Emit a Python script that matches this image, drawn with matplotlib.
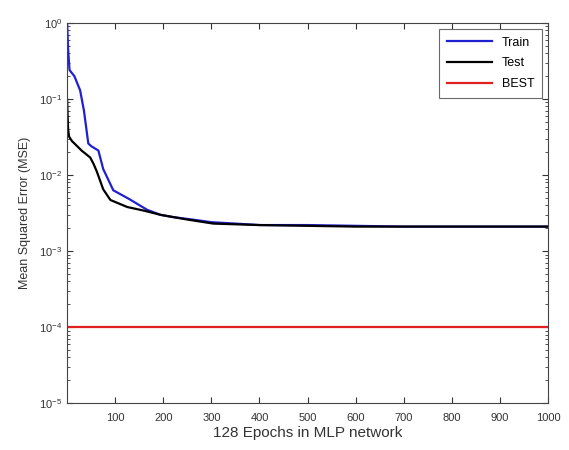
import matplotlib.pyplot as plt

plt.rcParams['font.family'] = ['Liberation Sans', 'DejaVu Sans']

# values (log scale)
train_epochs = [0, 2, 5, 15, 27, 35, 44, 50, 65, 75, 96, 130, 166, 194, 220, 260, 300, 350, 400, 500, 700, 1000]
train_mse = [1.0, 0.45, 0.24, 0.2, 0.13, 0.07, 0.026, 0.024, 0.021, 0.012, 0.0063, 0.0048, 0.0035, 0.0030, 0.0028, 0.0026,
             0.0024, 0.0023, 0.0022, 0.0022, 0.0021, 0.0021]

test_epochs = [0, 1, 2, 4, 10, 30, 48, 55, 62, 75, 90, 125, 160, 194, 250, 304, 400, 600, 1000]
test_mse = [0.097, 0.06, 0.04, 0.032, 0.028, 0.021, 0.017, 0.014, 0.011, 0.0065, 0.0047, 0.0038, 0.0034, 0.0030,
            0.0026, 0.0023, 0.0022, 0.0021, 0.0021]

best_epochs = [0, 1000]
best_mse = [1e-4, 1e-4]

xticks = [100, 200, 300, 400, 500, 600, 700, 800, 900, 1000]

fig = plt.figure(figsize=(5.69, 4.5), dpi=100)
ax = fig.add_axes([0.118, 0.104, 0.845, 0.845])

ax.plot(train_epochs, train_mse, color='#2020d0', lw=1.6, label='Train')
ax.plot(test_epochs, test_mse, color='black', lw=1.6, label='Test')
ax.plot(best_epochs, best_mse, color='#e02020', lw=1.6, label='BEST')

ax.set_yscale('log')
ax.set_ylim(1e-5, 1)
ax.set_xlim(0, 1000)
ax.set_xticks(xticks)
ax.tick_params(which='both', direction='in', top=True, right=True, labelsize=8, colors='#333333')
ax.tick_params(axis='x', pad=7)
ax.tick_params(which='major', length=4)
ax.tick_params(which='minor', length=2)
for s in ax.spines.values():
    s.set_color('#444444')

ax.set_xlabel('128 Epochs in MLP network', fontsize=11, color='#333333', labelpad=2)
ax.set_ylabel('Mean Squared Error (MSE)', fontsize=9, color='#333333', labelpad=6)

leg = ax.legend(loc='upper right', fontsize=9, frameon=True, fancybox=False,
                edgecolor='#444444', handlelength=3.6, labelspacing=0.7,
                borderaxespad=0.5, borderpad=0.6)
leg.get_frame().set_linewidth(0.8)

plt.savefig('out.png', dpi=100)
